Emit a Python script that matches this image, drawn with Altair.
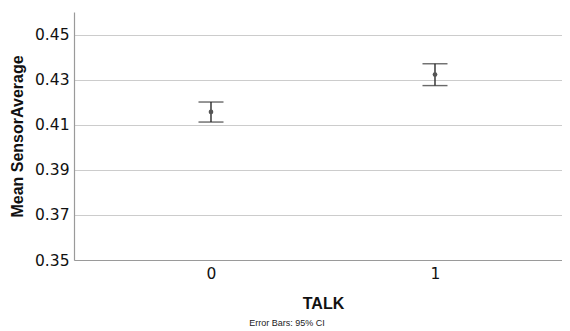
import altair as alt
import pandas as pd

talk = [0, 1]
mean = [0.4158, 0.4324]
lower = [0.4113, 0.4275]
upper = [0.4202, 0.4372]

df = pd.DataFrame({"TALK": talk, "mean": mean, "lower": lower, "upper": upper})

FONT = "Liberation Sans"
LFONT = "DejaVu Sans"

x = alt.X(
    "TALK:Q",
    scale=alt.Scale(domain=[-0.6116, 1.567], nice=False, zero=False),
    axis=alt.Axis(
        values=[0, 1], format="d", grid=False, ticks=False,
        labelFontSize=15.5, labelFont=LFONT, labelColor="#111", labelPadding=6,
        title="TALK", titleFont=FONT, titleFontSize=16, titleFontWeight="bold",
        titleColor="#111", titlePadding=14, titleX=249,
        domainColor="#9a9a9a", domainWidth=1.2,
    ),
)

y_axis = alt.Axis(
    values=[0.35, 0.37, 0.39, 0.41, 0.43, 0.45], format=".2f",
    ticks=False, labelFontSize=15.5, labelFont=LFONT, labelColor="#111",
    labelPadding=5, gridColor="#cccccc", gridWidth=1,
    title="Mean SensorAverage", titleFont=FONT, titleFontSize=16,
    titleFontWeight="bold", titleColor="#111", titlePadding=9,
    domainColor="#9a9a9a", domainWidth=1.2,
)
yscale = alt.Scale(domain=[0.35, 0.4602], nice=False, zero=False)

base = alt.Chart(df)

rule = base.mark_rule(color="#2a2a2a", strokeWidth=1.4).encode(
    x=x,
    y=alt.Y("lower:Q", scale=yscale, axis=y_axis),
    y2="upper:Q",
)
cap_lo = base.mark_tick(color="#2a2a2a", orient="horizontal", size=25, thickness=1.4).encode(
    x="TALK:Q", y="lower:Q"
)
cap_hi = base.mark_tick(color="#2a2a2a", orient="horizontal", size=25, thickness=1.4).encode(
    x="TALK:Q", y="upper:Q"
)
pts = base.mark_point(filled=True, color="#555", size=22, opacity=1).encode(
    x="TALK:Q", y="mean:Q"
)

chart = (
    alt.layer(rule, cap_lo, cap_hi, pts)
    .properties(
        width=488, height=248,
        autosize=alt.AutoSizeParams(type="none"),
        padding={"left": 66, "top": 4, "right": 0, "bottom": 71},
        title=alt.TitleParams(
            "Error Bars: 95% CI", orient="bottom", anchor="middle",
            font=FONT, fontSize=9, fontWeight="normal", color="#222",
            frame="group", dx=-31, offset=7,
        ),
    )
    .configure_view(stroke=None)
)

chart.save("out.html", embed_options={"renderer": "svg", "actions": False})
